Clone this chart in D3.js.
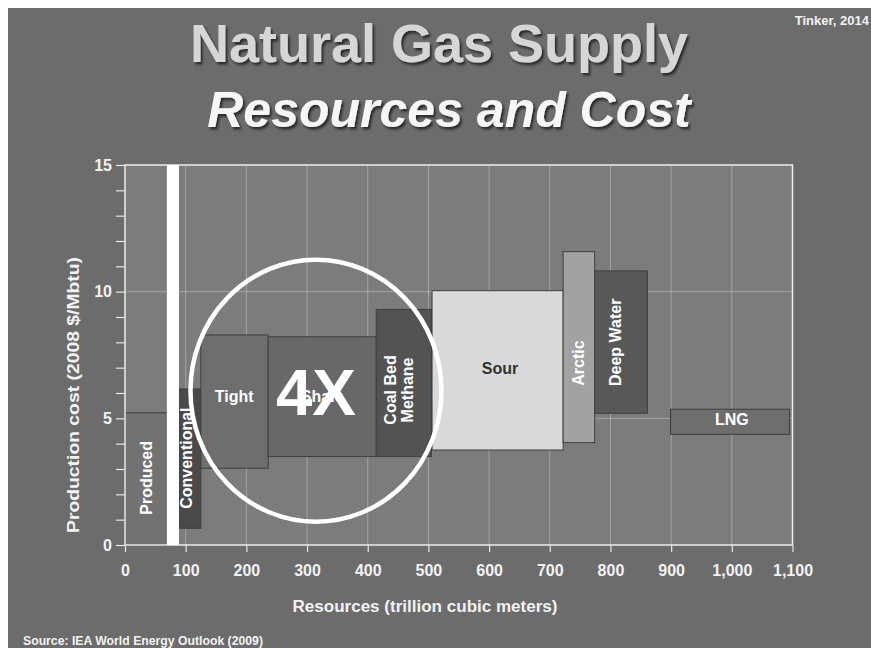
<!DOCTYPE html>
<html>
<head>
<meta charset="utf-8">
<script src="https://cdn.jsdelivr.net/npm/d3@7"></script>
<style>
  html, body { margin: 0; padding: 0; background: #ffffff; }
  svg { display: block; }
  text { font-family: "Liberation Sans", Arial, Helvetica, sans-serif; font-weight: bold; }
</style>
</head>
<body>
<svg id="chart" width="871" height="648"></svg>
<script>
// ---------------- data ----------------
const categories = ["Produced", "Conventional", "Tight", "Shale", "Coal Bed Methane", "Sour", "Arctic", "Deep Water", "LNG"];
const resourceStart = [0, 89, 125, 236, 414, 506, 722, 774, 899];      // trillion cubic meters
const resourceEnd   = [70, 125, 236, 414, 505, 722, 774, 861, 1095];
const costLow  = [0, 0.66, 3.03, 3.49, 3.49, 3.75, 4.04, 5.2, 4.37];    // 2008 $/Mbtu
const costHigh = [5.22, 6.16, 8.29, 8.22, 9.3, 10.04, 11.58, 10.82, 5.36];
const labelResource = [35, 101, 180, 325, 451, 618, 747, 808, 1000];
const labelCost     = [2.65, 3.43, 5.86, 5.86, 6.12, 6.99, 7.18, 8.0, 4.97];
const labelLines = [["Produced"], ["Conventional"], ["Tight"], ["Shale"], ["Coal Bed", "Methane"], ["Sour"], ["Arctic"], ["Deep Water"], ["LNG"]];
const rotatedLabel = [true, true, false, false, true, false, true, true, false];
const dividerRange = [69, 89];                 // "now" divider in resources units
const xTicks = [0, 100, 200, 300, 400, 500, 600, 700, 800, 900, 1000, 1100];
const yTicks = d3.range(0, 16);
const yLabelTicks = [0, 5, 10, 15];
const highlightCenter = [314.7, 6.09];          // resources, cost
const highlightRadius = [206.8, 5.17];          // resources units, cost units
const highlightText = "4X";

// ---------------- styles ----------------
const fills = {
  "Produced": "#727272", "Conventional": "#4a4a4a", "Tight": "#6e6e6e", "Shale": "#686868",
  "Coal Bed Methane": "#535353", "Sour": "#d9d9d9", "Arctic": "#a2a2a2", "Deep Water": "#585858", "LNG": "#6e6e6e"
};
const labelColor = { "Sour": "#333333" };

const svg = d3.select("#chart");
const W = 871, H = 648;

// defs
const defs = svg.append("defs");
const f = defs.append("filter").attr("id", "shadow").attr("x", "-10%").attr("y", "-20%").attr("width", "130%").attr("height", "150%");
f.append("feDropShadow").attr("dx", 2).attr("dy", 2.5).attr("stdDeviation", 1.2)
  .attr("flood-color", "#1e1e1e").attr("flood-opacity", 0.85);

// page background (white margin top/left, gray slide)
svg.append("rect").attr("x", 0).attr("y", 0).attr("width", W).attr("height", H).attr("fill", "#ffffff");
svg.append("rect").attr("x", 8).attr("y", 8).attr("width", W - 8).attr("height", H - 8).attr("fill", "#6c6c6c");

// scales
const x = d3.scaleLinear().domain([0, 1100]).range([125, 792.5]);
const y = d3.scaleLinear().domain([0, 15]).range([545, 165]);

// plot background
svg.append("rect")
  .attr("x", x(0)).attr("y", y(15))
  .attr("width", x(1100) - x(0)).attr("height", y(0) - y(15))
  .attr("fill", "#7c7c7c");

// grid
const grid = svg.append("g").attr("stroke", "#ffffff").attr("stroke-opacity", 0.3).attr("stroke-width", 1);
grid.selectAll("line.v").data(xTicks.filter(d => d > 0 && d < 1100)).join("line")
  .attr("class", "v").attr("x1", d => x(d)).attr("x2", d => x(d)).attr("y1", y(0)).attr("y2", y(15));
grid.selectAll("line.h").data([5, 10]).join("line")
  .attr("class", "h").attr("y1", d => y(d)).attr("y2", d => y(d)).attr("x1", x(0)).attr("x2", x(1100));

// bars
const rows = categories.map((c, i) => ({
  cat: c, x0: resourceStart[i], x1: resourceEnd[i], lo: costLow[i], hi: costHigh[i],
  lx: labelResource[i], ly: labelCost[i], lines: labelLines[i], rot: rotatedLabel[i]
}));
svg.append("g").selectAll("rect").data(rows).join("rect")
  .attr("x", d => x(d.x0)).attr("y", d => y(d.hi))
  .attr("width", d => x(d.x1) - x(d.x0)).attr("height", d => y(d.lo) - y(d.hi))
  .attr("fill", d => fills[d.cat]).attr("stroke", "#3e3e3e").attr("stroke-width", 1);

// frame
svg.append("rect")
  .attr("x", x(0)).attr("y", y(15))
  .attr("width", x(1100) - x(0)).attr("height", y(0) - y(15))
  .attr("fill", "none").attr("stroke", "#ececec").attr("stroke-width", 1.5);

// divider
svg.append("rect")
  .attr("x", x(dividerRange[0])).attr("y", y(15))
  .attr("width", x(dividerRange[1]) - x(dividerRange[0])).attr("height", y(0) - y(15))
  .attr("fill", "#ffffff");

// bar labels
const lab = svg.append("g").selectAll("text").data(rows).join("text")
  .attr("font-size", 16)
  .attr("fill", d => labelColor[d.cat] || "#ffffff")
  .attr("text-anchor", "middle")
  .attr("transform", d => `translate(${x(d.lx)},${y(d.ly)})` + (d.rot ? " rotate(-90)" : ""));
lab.each(function(d) {
  const t = d3.select(this);
  const n = d.lines.length;
  d.lines.forEach((ln, k) => {
    t.append("tspan").attr("x", 0)
      .attr("dy", k === 0 ? (0.36 - (n - 1) * 0.55) + "em" : "1.1em")
      .text(ln);
  });
});

// highlight ellipse and 4X
svg.append("ellipse")
  .attr("cx", x(highlightCenter[0])).attr("cy", y(highlightCenter[1]))
  .attr("rx", x(highlightRadius[0]) - x(0)).attr("ry", y(0) - y(highlightRadius[1]))
  .attr("fill", "none").attr("stroke", "#ffffff").attr("stroke-width", 4.5);
svg.append("text")
  .attr("x", x(highlightCenter[0])).attr("y", 415)
  .attr("text-anchor", "middle").attr("font-size", 65).attr("fill", "#ffffff")
  .attr("textLength", 80).attr("lengthAdjust", "spacingAndGlyphs")
  .text(highlightText);

// axes
const axisColor = "#e6e6e6";
const xAxis = svg.append("g").attr("transform", `translate(0,${y(0)})`)
  .call(d3.axisBottom(x).tickValues(xTicks).tickSize(7).tickPadding(13).tickFormat(d3.format(",")));
const yAxis = svg.append("g").attr("transform", `translate(${x(0)},0)`)
  .call(d3.axisLeft(y).tickValues(yTicks).tickSize(9).tickPadding(4)
    .tickFormat(d => yLabelTicks.includes(d) ? d : ""));
[xAxis, yAxis].forEach(a => {
  a.select(".domain").remove();
  a.selectAll(".tick line").attr("stroke", axisColor).attr("stroke-width", 1.2);
  a.selectAll(".tick text").attr("fill", "#f2f2f2").attr("font-size", 16)
    .attr("font-family", "'Liberation Sans', Arial, sans-serif").attr("font-weight", "bold");
});

// axis titles
svg.append("text")
  .attr("x", 425).attr("y", 612).attr("text-anchor", "middle")
  .attr("font-size", 16).attr("fill", "#f2f2f2")
  .attr("textLength", 265).attr("lengthAdjust", "spacingAndGlyphs")
  .text("Resources (trillion cubic meters)");
svg.append("text")
  .attr("transform", "translate(79,395) rotate(-90)").attr("text-anchor", "middle")
  .attr("font-size", 16).attr("fill", "#f2f2f2")
  .attr("textLength", 276).attr("lengthAdjust", "spacingAndGlyphs")
  .text("Production cost (2008 $/Mbtu)");

// titles
svg.append("text")
  .attr("x", 439).attr("y", 62).attr("text-anchor", "middle")
  .attr("font-size", 54).attr("fill", "#d6d6d6").attr("filter", "url(#shadow)")
  .text("Natural Gas Supply");
svg.append("text")
  .attr("x", 449).attr("y", 127).attr("text-anchor", "middle")
  .attr("font-size", 50).attr("font-style", "italic").attr("fill", "#f6f6f6").attr("filter", "url(#shadow)")
  .text("Resources and Cost");

// credits
svg.append("text")
  .attr("x", 869).attr("y", 25).attr("text-anchor", "end")
  .attr("font-size", 13).attr("fill", "#f2f2f2")
  .text("Tinker, 2014");
svg.append("text")
  .attr("x", 23).attr("y", 645)
  .attr("font-size", 12).attr("fill", "#f2f2f2")
  .attr("textLength", 240).attr("lengthAdjust", "spacingAndGlyphs")
  .text("Source: IEA World Energy Outlook (2009)");
</script>
</body>
</html>
